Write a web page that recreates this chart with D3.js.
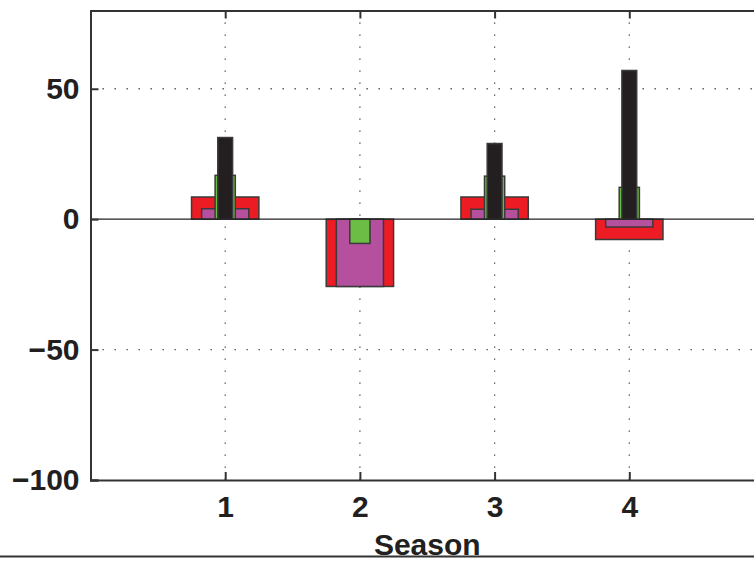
<head>
    <meta charset="utf-8" />
    <title></title>
    <style>
    body { margin: 0; background: #fff; }
    text {
        font-family: "Liberation Sans", Arial, Helvetica, sans-serif;
        font-weight: bold;
        font-size: 30px;
        fill: #231f20;
    }
    .axis path, .axis line { stroke: #333; stroke-width: 2px; }
    .grid { stroke: #444; stroke-width: 1.3px; stroke-dasharray: 1.3,10.7; }
    .bar { stroke: #3a3a3a; stroke-width: 1.5px; }
    </style>
</head>
<body>
<div id="container"></div>
</body>
<script src="https://cdn.jsdelivr.net/npm/d3@7"></script>
<script>
var seasons = [1, 2, 3, 4]
var yTicks = [-100, -50, 0, 50]
// four nested bar series, widest first
var redVals = [8.5, -25.8, 8.5, -7.8]
var magentaVals = [4.0, -25.8, 3.8, -3.0]
var greenVals = [16.8, -9.3, 16.5, 12.2]
var blackVals = [31.3, 0, 29, 57]

var series = [
    { vals: redVals, w: 0.5, color: "#ed1c24" },
    { vals: magentaVals, w: 0.35, color: "#b5509f" },
    { vals: greenVals, w: 0.15, color: "#6cbd45" },
    { vals: blackVals, w: 0.11, color: "#231f20" }
]

var width = 754, height = 561,
    pLeft = 90.5, pRight = 764, pTop = 10.5, pBottom = 480

var svg = d3.select("#container")
    .append("svg")
    .attr("width", width)
    .attr("height", height)

var x = d3.scaleLinear().domain([0, 5]).range([pLeft, pRight])
var y = d3.scaleLinear().domain([-100, 80]).range([pBottom, pTop])

// dotted grid
svg.selectAll(".gx").data(seasons).enter().append("line")
    .attr("class", "grid")
    .attr("x1", d => x(d)).attr("x2", d => x(d))
    .attr("y1", pTop).attr("y2", pBottom)
svg.selectAll(".gy").data([-50, 50]).enter().append("line")
    .attr("class", "grid")
    .attr("x1", pLeft).attr("x2", pRight)
    .attr("y1", d => y(d)).attr("y2", d => y(d))

// bars
series.forEach(function(s) {
    svg.append("g").selectAll("rect")
        .data(s.vals)
        .enter()
        .append("rect")
        .attr("class", "bar")
        .attr("x", (d, i) => x(seasons[i] - s.w / 2))
        .attr("width", x(s.w) - x(0))
        .attr("y", d => y(Math.max(d, 0)))
        .attr("height", d => Math.abs(y(d) - y(0)))
        .attr("fill", s.color)
})

// zero baseline
svg.append("line")
    .attr("x1", pLeft).attr("x2", pRight)
    .attr("y1", y(0)).attr("y2", y(0))
    .attr("stroke", "#222").attr("stroke-width", 1.3)

// axes, ticks pointing inwards
svg.append("g").attr("class", "axis")
    .attr("transform", "translate(" + pLeft + ",0)")
    .call(d3.axisLeft(y).tickValues(yTicks).tickSize(-8).tickPadding(11))
svg.append("g").attr("class", "axis")
    .attr("transform", "translate(" + pRight + ",0)")
    .call(d3.axisRight(y).tickValues(yTicks).tickSize(-8).tickFormat(""))
svg.append("g").attr("class", "axis")
    .attr("transform", "translate(0," + pBottom + ")")
    .call(d3.axisBottom(x).tickValues(seasons).tickSize(-8).tickPadding(16).tickFormat(d3.format("d")))
svg.append("g").attr("class", "axis")
    .attr("transform", "translate(0," + pTop + ")")
    .call(d3.axisTop(x).tickValues(seasons).tickSize(-8).tickFormat(""))

svg.selectAll(".axis text").attr("fill", null)
svg.selectAll(".axis").attr("font-family", null).attr("font-size", null)

// x label
svg.append("text")
    .attr("x", (pLeft + pRight) / 2)
    .attr("y", 555)
    .attr("text-anchor", "middle")
    .text("Season")

// separator line at the bottom
svg.append("line")
    .attr("x1", 0).attr("x2", width)
    .attr("y1", 556.5).attr("y2", 556.5)
    .attr("stroke", "#333").attr("stroke-width", 2)
</script>
